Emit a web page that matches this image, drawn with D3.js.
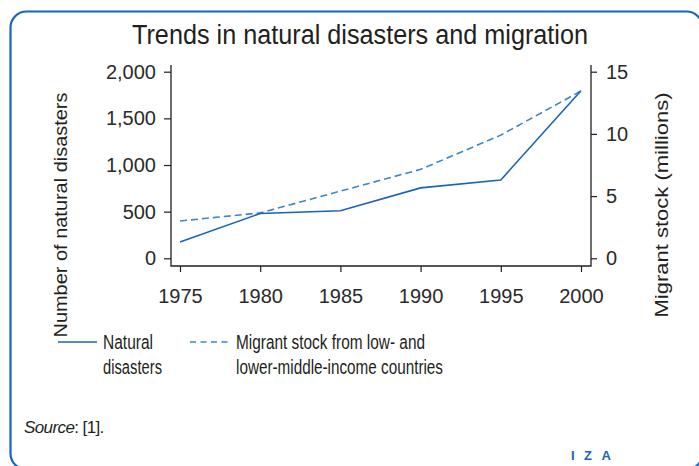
<!DOCTYPE html>
<html>
<head>
<meta charset="utf-8">
<script src="https://cdn.jsdelivr.net/npm/d3@7"></script>
<style>
  html, body { margin: 0; padding: 0; background: #fff; }
  svg { display: block; }
  text { font-family: "Liberation Sans", Arial, sans-serif; fill: #231f20; }
</style>
</head>
<body>
<div id="chart"></div>
<script>
const years = [1975, 1980, 1985, 1990, 1995, 2000];
const disasters = [175, 480, 510, 755, 840, 1795];
const migrants = [3.0, 3.65, 5.4, 7.15, 9.9, 13.45];
const leftTicks = [0, 500, 1000, 1500, 2000];
const rightTicks = [0, 5, 10, 15];

const width = 699;
const height = 466;
const blue = '#1b63b3';
const lightBlue = '#3a87cc';

const svg = d3.select('#chart')
  .append('svg')
  .attr('width', width)
  .attr('height', height);

// frame
svg.append('rect')
  .attr('x', 10.5)
  .attr('y', 11.5)
  .attr('width', 692)
  .attr('height', 458)
  .attr('rx', 16)
  .style('fill', 'none')
  .style('stroke', '#1565c0')
  .style('stroke-width', 2.2);

// squeeze a text element into the width measured on the picture
function fit(sel, w) {
  sel.attr('textLength', w).attr('lengthAdjust', 'spacingAndGlyphs');
  return sel;
}

fit(svg.append('text')
  .attr('x', 360)
  .attr('y', 44)
  .attr('text-anchor', 'middle')
  .style('font-size', '27px')
  .text('Trends in natural disasters and migration'), 456);

const plot = { left: 171, right: 591, top: 65, bottom: 266 };

const x = d3.scaleLinear().domain([1975, 2000]).range([180, 581]);
const yL = d3.scaleLinear().domain([0, 2000]).range([258.3, 71.7]);
const yR = d3.scaleLinear().domain([0, 15]).range([258.3, 71.7]);

const axisStyle = g => {
  g.select('.domain').remove();
  g.selectAll('line').style('stroke', '#231f20').style('stroke-width', 1.2);
  g.selectAll('text').style('font-size', '20px').style('fill', '#2a2a2a')
    .style('font-family', '"Liberation Sans", Arial, sans-serif');
};

svg.append('g')
  .attr('transform', `translate(${plot.left},0)`)
  .call(d3.axisLeft(yL).tickValues(leftTicks).tickSize(7).tickPadding(8)
    .tickFormat(d3.format(',')))
  .call(axisStyle);

svg.append('g')
  .attr('transform', `translate(${plot.right},0)`)
  .call(d3.axisRight(yR).tickValues(rightTicks).tickSize(6).tickPadding(9))
  .call(axisStyle);

svg.append('g')
  .attr('transform', `translate(0,${plot.bottom})`)
  .call(d3.axisBottom(x).tickValues(years).tickSize(6).tickPadding(17)
    .tickFormat(d3.format('d')))
  .call(axisStyle);

// axis lines
svg.append('path')
  .attr('d', `M${plot.left},${plot.top}V${plot.bottom}H${plot.right}V${plot.top}`)
  .style('fill', 'none')
  .style('stroke', '#231f20')
  .style('stroke-width', 1.3);

// axis titles
fit(svg.append('text')
  .attr('transform', 'translate(67,215) rotate(-90)')
  .attr('text-anchor', 'middle')
  .style('font-size', '18.5px')
  .text('Number of natural disasters'), 245);

fit(svg.append('text')
  .attr('transform', 'translate(668,205) rotate(-90)')
  .attr('text-anchor', 'middle')
  .style('font-size', '18.5px')
  .text('Migrant stock (millions)'), 225);

// series
const lineL = d3.line().x((d, i) => x(years[i])).y(d => yL(d));
const lineR = d3.line().x((d, i) => x(years[i])).y(d => yR(d));

svg.append('path')
  .datum(migrants)
  .attr('d', lineR)
  .style('fill', 'none')
  .style('stroke', lightBlue)
  .style('stroke-width', 1.6)
  .style('stroke-dasharray', '7,4');

svg.append('path')
  .datum(disasters)
  .attr('d', lineL)
  .style('fill', 'none')
  .style('stroke', blue)
  .style('stroke-width', 1.6);

// legend
const legend = svg.append('g');
legend.append('line')
  .attr('x1', 58).attr('x2', 97).attr('y1', 342).attr('y2', 342)
  .style('stroke', blue).style('stroke-width', 1.6);
legend.append('line')
  .attr('x1', 190).attr('x2', 229).attr('y1', 342).attr('y2', 342)
  .style('stroke', lightBlue).style('stroke-width', 1.6)
  .style('stroke-dasharray', '6,4.5');

const legendText = [
  { x: 103, y: 348.5, t: 'Natural', w: 50 },
  { x: 103, y: 373.5, t: 'disasters', w: 59 },
  { x: 236, y: 348.5, t: 'Migrant stock from low- and', w: 189 },
  { x: 236, y: 373.5, t: 'lower-middle-income countries', w: 207 },
];
legendText.forEach(d => {
  fit(legend.append('text')
    .attr('x', d.x).attr('y', d.y)
    .style('font-size', '19.5px')
    .text(d.t), d.w);
});

// source
const src = svg.append('text')
  .attr('x', 24).attr('y', 433)
  .style('font-size', '17px')
  .style('letter-spacing', '-0.6px');
src.append('tspan').style('font-style', 'italic').text('Source');
src.append('tspan').text(': [1].');

svg.append('text')
  .attr('x', 571).attr('y', 459.5)
  .style('font-size', '13px')
  .style('font-weight', 'bold')
  .style('letter-spacing', '9.5px')
  .style('fill', '#1b63b3')
  .text('IZA');
</script>
</body>
</html>
